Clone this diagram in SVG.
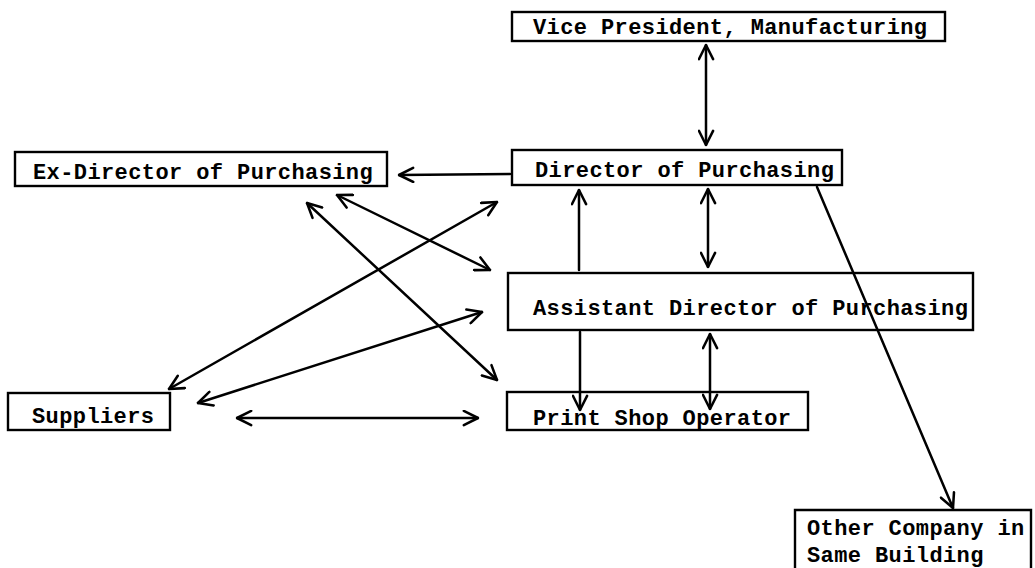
<svg xmlns="http://www.w3.org/2000/svg" width="1035" height="568" viewBox="0 0 1035 568">
<style>
.box{fill:none;stroke:#000;stroke-width:2.4}
.t{font-family:"Liberation Mono",monospace;font-size:22px;font-weight:bold;letter-spacing:0.4px;fill:#000}
.c{fill:none;stroke:#000;stroke-width:2.5;stroke-linecap:round}
</style>
<defs>
<marker id="a" viewBox="0 0 12 12" refX="11" refY="6" markerWidth="17" markerHeight="17" markerUnits="userSpaceOnUse" orient="auto-start-reverse">
<path d="M1,1 L11,6 L1,11" fill="none" stroke="#000" stroke-width="1.8" stroke-linecap="round" stroke-linejoin="round"/>
</marker>
</defs>
<rect width="1035" height="568" fill="#fff"/>
<g id="vp"><rect class="box" x="512" y="12" width="433" height="29"/><text class="t" x="533" y="34">Vice President, Manufacturing</text></g>
<g id="exdir"><rect class="box" x="15" y="152" width="372" height="34"/><text class="t" x="33" y="179">Ex-Director of Purchasing</text></g>
<g id="dir"><rect class="box" x="512" y="150" width="330" height="35"/><text class="t" x="535" y="177">Director of Purchasing</text></g>
<g id="asst"><rect class="box" x="508" y="273" width="465" height="57"/><text class="t" x="533" y="315">Assistant Director of Purchasing</text></g>
<g id="suppliers"><rect class="box" x="8" y="393" width="162" height="37"/><text class="t" x="32" y="423">Suppliers</text></g>
<g id="print"><rect class="box" x="507" y="392" width="301" height="38"/><text class="t" x="533" y="425">Print Shop Operator</text></g>
<g id="other"><path class="box" d="M795,568 V510 H1031 V568"/><text class="t" x="807" y="535">Other Company in</text><text class="t" x="807" y="562">Same Building</text></g>
<g id="connectors">
<line class="c" x1="706" y1="45" x2="706" y2="145" marker-start="url(#a)" marker-end="url(#a)"/>
<line class="c" x1="510" y1="174" x2="399" y2="175" marker-end="url(#a)"/>
<line class="c" x1="579" y1="270" x2="579" y2="190" marker-end="url(#a)"/>
<line class="c" x1="708" y1="189" x2="708" y2="267" marker-start="url(#a)" marker-end="url(#a)"/>
<line class="c" x1="580" y1="332" x2="580" y2="410" marker-end="url(#a)"/>
<line class="c" x1="710" y1="334" x2="710" y2="409" marker-start="url(#a)" marker-end="url(#a)"/>
<line class="c" x1="817" y1="187" x2="953" y2="508" marker-end="url(#a)"/>
<line class="c" x1="337" y1="195" x2="490" y2="270" marker-start="url(#a)" marker-end="url(#a)"/>
<line class="c" x1="307" y1="203" x2="497" y2="380" marker-start="url(#a)" marker-end="url(#a)"/>
<line class="c" x1="169" y1="389" x2="497" y2="202" marker-start="url(#a)" marker-end="url(#a)"/>
<line class="c" x1="198" y1="403" x2="482" y2="312" marker-start="url(#a)" marker-end="url(#a)"/>
<line class="c" x1="237" y1="418" x2="478" y2="418" marker-start="url(#a)" marker-end="url(#a)"/>
</g>
</svg>
